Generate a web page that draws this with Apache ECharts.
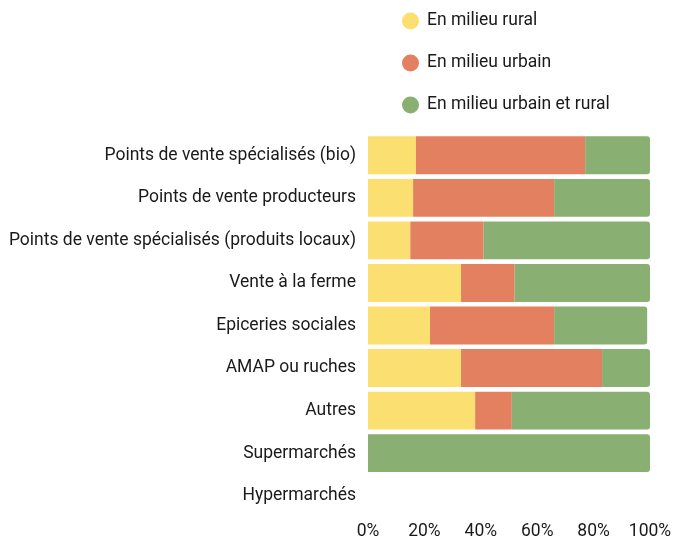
<!DOCTYPE html>
<html>
<head>
<meta charset="utf-8">
<script src="https://cdn.jsdelivr.net/npm/echarts@6/dist/echarts.min.js"></script>
<style>
  html, body { margin: 0; padding: 0; background: #fff; }
  #chart { width: 680px; height: 541px; }
</style>
</head>
<body>
<div id="chart"></div>
<script>
const categories = [
  'Points de vente spécialisés (bio)',
  'Points de vente producteurs',
  'Points de vente spécialisés (produits locaux)',
  'Vente à la ferme',
  'Epiceries sociales',
  'AMAP ou ruches',
  'Autres',
  'Supermarchés',
  'Hypermarchés'
]

const rural = [17, 16, 15, 33, 22, 33, 38, 0, 0]
const urbain = [60, 50, 26, 19, 44, 50, 13, 0, 0]
const urbainRural = [23, 34, 59, 48, 33, 17, 49, 100, 0]

const seriesNames = ['En milieu rural', 'En milieu urbain', 'En milieu urbain et rural']
const colors = ['#fbdf71', '#e2805f', '#89b072']

const chart = echarts.init(document.getElementById('chart'))

const makeSeries = (name, data, color, radius) => ({
  name: name,
  type: 'bar',
  stack: 'total',
  barCategoryGap: '11%',
  data: data,
  itemStyle: {
    color: color,
    borderRadius: radius
  }
})

chart.setOption({
  animation: false,
  textStyle: { fontFamily: 'Roboto' },
  color: colors,
  legend: {
    orient: 'vertical',
    left: 397,
    top: 7,
    icon: 'circle',
    itemWidth: 17,
    itemHeight: 17,
    itemGap: 24,
    textStyle: { color: '#1a1a1a', fontSize: 17.5, fontFamily: 'Roboto', padding: [0, 0, 0, 3] },
    data: seriesNames
  },
  grid: {
    left: 368,
    right: 30,
    top: 134,
    bottom: 24
  },
  xAxis: {
    type: 'value',
    min: 0,
    max: 100,
    interval: 20,
    axisLine: { show: false },
    axisTick: { show: false },
    splitLine: { show: false },
    axisLabel: {
      formatter: '{value}%',
      color: '#1a1a1a',
      fontSize: 17.5,
      margin: 6
    }
  },
  yAxis: {
    type: 'category',
    inverse: true,
    data: categories,
    axisLine: { show: false },
    axisTick: { show: false },
    axisLabel: {
      color: '#1a1a1a',
      fontSize: 17.5,
      margin: 12
    }
  },
  series: [
    makeSeries(seriesNames[0], rural, colors[0], 0),
    makeSeries(seriesNames[1], urbain, colors[1], 0),
    makeSeries(seriesNames[2], urbainRural, colors[2], [0, 3, 3, 0])
  ]
})
</script>
</body>
</html>
